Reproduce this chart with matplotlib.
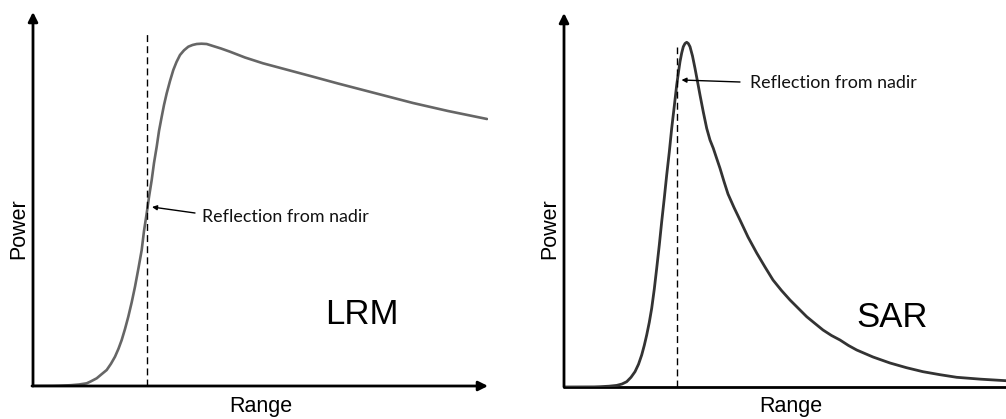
import matplotlib
matplotlib.use("Agg")
import matplotlib.pyplot as plt

# ---- data (arbitrary units: range offset, power) ----
lrm_range = [0, 20, 27, 38, 46, 53.7, 58, 63.7, 68, 73.7, 78, 82, 85.5, 88.7, 92, 95.3,
             98.7, 102, 105.5, 108.7, 111, 113.7, 116, 118.7, 121, 123.7, 126, 128.7,
             131, 133.7, 137, 140.3, 143.5, 147, 151, 155.3, 159.5, 163.7, 168.5,
             173.7, 180, 188, 197, 212, 230, 255, 280, 305, 330, 355, 380, 415, 454]
lrm_power = [0, 0.1, 0.3, 0.8, 1.5, 2.7, 4.7, 7.7, 11.3, 16, 22.3, 29.3, 37.3, 46, 57, 69.3,
             83.7, 99.3, 118, 136, 155, 172.7, 189, 206, 223, 239.3, 255, 269.3,
             281, 292.7, 305, 316, 324, 331, 335.7, 339.3, 341, 342, 342.3,
             342, 340, 337.5, 334.3, 328.5, 322.7, 316, 309.3, 302.5, 296, 289.5,
             283, 275, 267]

sar_range = [0, 30, 36, 45, 52.7, 58, 62.7, 67, 71, 74.5, 77.7, 80.3, 82.7, 85.3, 87.7,
             90.3, 92.7, 95.3, 97.7, 100.3, 102.7, 105.3, 107.7, 110.3, 112.7, 114.5,
             116, 117.7, 119.3, 121, 122.7, 124.3, 126, 128.5, 131, 133.5, 136, 139.3,
             142.7, 146, 149.3, 152.7, 156, 160, 164, 170, 176, 184, 192.7, 201, 209,
             217.5, 226, 234.5, 242.7, 251, 259, 267.5, 276, 284.5, 292.7, 309, 326,
             342.5, 359, 376, 392.7, 417, 442]
sar_power = [0, 0.1, 0.3, 0.8, 1.6, 3.0, 5.3, 9.7, 15.3, 22.7, 32, 41.7, 52, 64.7, 78.7,
             98, 118.7, 142, 165.3, 189, 212, 235, 258.7, 281, 302, 315,
             325.3, 334, 340.3, 343.5, 344.7, 343.5, 340.3, 331, 318.7, 305.5, 292,
             275, 258.7, 247, 238.7, 228.5, 218.7, 205.5, 193, 179.5, 167, 150,
             134, 120, 107, 96.5, 87, 78.5, 70.3, 63.5, 57, 51.5, 47, 41.5, 37,
             30, 24, 19.3, 15.3, 12.3, 9.7, 7.8, 6.3]

nadir_lrm = 113.7
nadir_sar = 113.3
labels = ["LRM", "SAR"]
annot_text = "Reflection from nadir"

W, H = 1006, 419
fig = plt.figure(figsize=(W / 100, H / 100), dpi=100)


def make_axes(x0, y_bottom, width, height):
    return fig.add_axes([x0 / W, (H - y_bottom) / H, width / W, height / H])


axL = make_axes(33, 386, 455, 374)
axR = make_axes(564, 387, 442, 374)

for ax, xmax in ((axL, 455), (axR, 442)):
    ax.set_xlim(0, xmax)
    ax.set_ylim(0, 374)
    ax.axis("off")

# axis arrows
arrow_kw = dict(arrowstyle="-|>", lw=2, color="black", mutation_scale=14,
                shrinkA=0, shrinkB=0)
axL.annotate("", xy=(0, 374), xytext=(0, 0), arrowprops=arrow_kw, annotation_clip=False)
axL.annotate("", xy=(455, 0), xytext=(-1, 0), arrowprops=arrow_kw, annotation_clip=False)
axR.annotate("", xy=(0, 374), xytext=(0, 0), arrowprops=arrow_kw, annotation_clip=False)
axR.plot([-1, 442], [0, 0], color="black", lw=2, clip_on=False, solid_capstyle="butt")

# curves
axL.plot(lrm_range, lrm_power, color="#666666", lw=1.9, solid_capstyle="round",
         solid_joinstyle="round")
axR.plot(sar_range, sar_power, color="#333333", lw=2.0, solid_capstyle="round",
         solid_joinstyle="round")

# nadir dashed lines
axL.plot([nadir_lrm, nadir_lrm], [0, 353], color="black", lw=1, dashes=(5, 3))
axR.plot([nadir_sar, nadir_sar], [0, 340], color="black", lw=1, dashes=(5, 3))

# annotations
small_arrow = dict(arrowstyle="-|>", lw=1, color="black", mutation_scale=7,
                   shrinkA=0, shrinkB=0)
axL.annotate("", xy=(119, 179), xytext=(162, 173), arrowprops=small_arrow)
axL.text(169, 164.5, annot_text, fontsize=12.9, family="Lato", va="baseline", ha="left",
         color="#111111")
axR.annotate("", xy=(117.5, 307), xytext=(176, 305), arrowprops=small_arrow)
axR.text(186, 299.5, annot_text, fontsize=12.9, family="Lato", va="baseline", ha="left",
         color="#111111")

# mode labels
axL.text(329, 72, labels[0], fontsize=25, family="Liberation Sans", ha="center",
         va="center")
axR.text(328, 70, labels[1], fontsize=25, family="Liberation Sans", ha="center",
         va="center")

# axis titles
for px in (19, 550):
    fig.text(px / W, (H - 229) / H, "Power", rotation=90, fontsize=15.5,
             family="Liberation Sans", ha="center", va="center")
for px in (261, 791):
    fig.text(px / W, (H - 412) / H, "Range", fontsize=15.5,
             family="Liberation Sans", ha="center", va="baseline")

fig.savefig("out.png", dpi=100, facecolor="white")
